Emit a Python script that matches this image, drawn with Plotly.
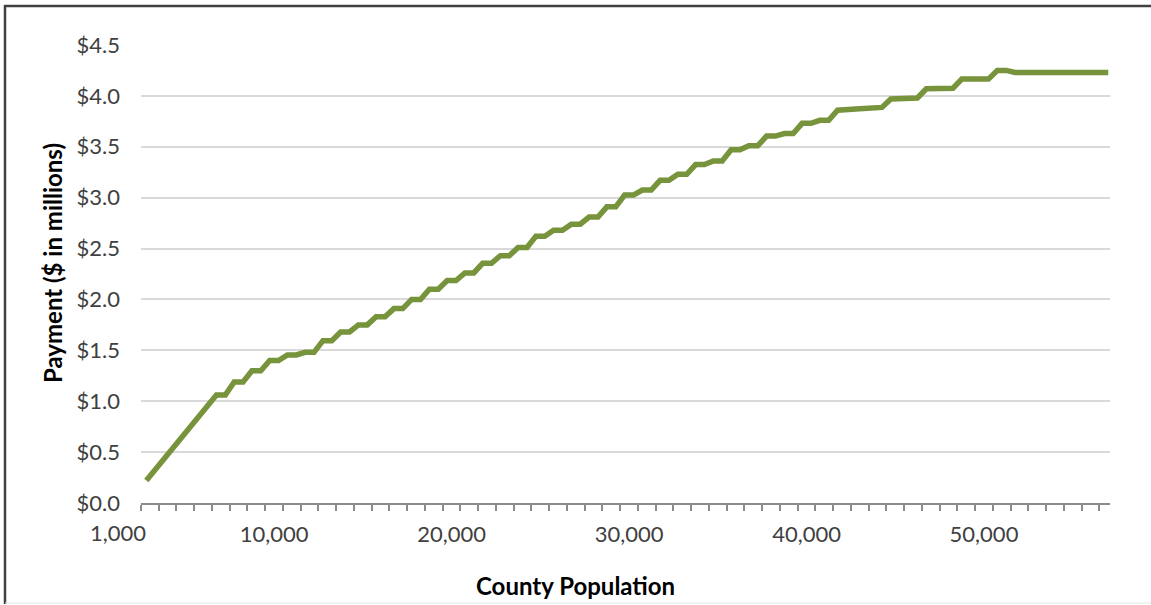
import plotly.graph_objects as go

# ---- data ----
population = [
    2800, 4000, 5000, 6000,
    6750, 7250, 7750, 8250, 8750, 9250, 9750, 10250,
    10750, 11250, 11750, 12250, 12750, 13250, 13750, 14250,
    14750, 15250, 15750, 16250, 16750, 17250, 17750, 18250,
    18750, 19250, 19750, 20250, 20750, 21250, 21750, 22250,
    22750, 23250, 23750, 24250, 24750, 25250, 25750, 26250,
    26750, 27250, 27750, 28250, 28750, 29250, 29750, 30250,
    30750, 31250, 31750, 32250, 32750, 33250, 33750, 34250,
    34750, 35250, 35750, 36250, 36750, 37250, 37750, 38250,
    38750, 39250, 39750, 40250, 40750, 41250,
    41750, 43000, 44250, 44750, 46250, 46750, 48250,
    48750, 50250, 50750, 51250, 51750, 57000,
]
payment_millions = [
    0.22, 0.48, 0.70, 0.91,
    1.06, 1.06, 1.19, 1.19, 1.30, 1.30, 1.40, 1.40,
    1.455, 1.455, 1.48, 1.48, 1.595, 1.595, 1.68, 1.68,
    1.75, 1.75, 1.83, 1.83, 1.91, 1.91, 2.00, 2.00,
    2.10, 2.10, 2.185, 2.185, 2.26, 2.26, 2.355, 2.355,
    2.43, 2.43, 2.51, 2.51, 2.62, 2.62, 2.68, 2.68,
    2.74, 2.74, 2.81, 2.81, 2.91, 2.91, 3.025, 3.025,
    3.075, 3.075, 3.17, 3.17, 3.23, 3.23, 3.325, 3.325,
    3.36, 3.36, 3.47, 3.47, 3.51, 3.51, 3.605, 3.605,
    3.63, 3.63, 3.73, 3.73, 3.76, 3.76,
    3.86, 3.873, 3.887, 3.97, 3.98, 4.07, 4.075,
    4.165, 4.165, 4.25, 4.25, 4.23, 4.23,
]
x_title = "County Population"
y_title = "Payment ($ in millions)"
first_x_label = "1,000"

# ---- layout geometry (pixels) ----
W, H = 1151, 605
L, R, T, B = 141, 1110, 45, 503


def px(x):
    return (x - L) / (R - L)


def py(y):
    return (B - y) / (B - T)


FONT = "Lato"
LINE_GREEN = "#77933C"
TICK_SIZE = 22
TITLE_SIZE = 24

fig = go.Figure()
fig.add_trace(go.Scatter(
    x=population, y=payment_millions, mode="lines",
    line=dict(color=LINE_GREEN, width=5.5),
    hoverinfo="skip", showlegend=False,
))

fig.update_layout(
    width=W, height=H,
    margin=dict(l=L, r=W - R, t=T, b=H - B, autoexpand=False),
    paper_bgcolor="white", plot_bgcolor="white",
    font=dict(family=FONT, size=TICK_SIZE, color="#404040"),
    xaxis=dict(
        range=[2500, 57100],
        tickmode="linear", tick0=0, dtick=10000,
        tickformat=",",
        ticks="", showgrid=False, zeroline=False,
        showline=True, linecolor="#8C8C8C", linewidth=2,
        ticklabelstandoff=11,
        tickfont=dict(family=FONT, size=TICK_SIZE, color="#404040"),
        minor=dict(ticks="outside", tickmode="linear", tick0=500, dtick=1000,
                   ticklen=6, tickwidth=2, tickcolor="#8C8C8C", showgrid=False),
        automargin=False,
    ),
    yaxis=dict(
        range=[0, 4.5],
        tickmode="linear", tick0=0, dtick=0.5,
        tickformat="$.1f",
        ticks="", showgrid=True, gridcolor="#D9D9D9", gridwidth=2,
        zeroline=False, showline=False,
        ticklabelstandoff=20,
        tickfont=dict(family=FONT, size=TICK_SIZE, color="#404040"),
        automargin=False,
    ),
)

# axis titles and the leftmost category label
fig.add_annotation(text=x_title, xref="paper", yref="paper",
                   x=px(575), y=py(585), showarrow=False,
                   xanchor="center", yanchor="middle",
                   font=dict(family=FONT, size=TITLE_SIZE, color="#000000", weight="bold"))
fig.add_annotation(text=y_title, xref="paper", yref="paper",
                   x=px(52), y=py(263), showarrow=False, textangle=-90,
                   xanchor="center", yanchor="middle",
                   font=dict(family=FONT, size=TITLE_SIZE, color="#000000", weight="bold"))
fig.add_annotation(text=first_x_label, xref="paper", yref="paper",
                   x=px(118), y=py(532), showarrow=False,
                   xanchor="center", yanchor="middle",
                   font=dict(family=FONT, size=TICK_SIZE, color="#404040"))

# frame of the screenshot
fig.add_shape(type="line", xref="paper", yref="paper",
              x0=px(5), x1=px(5), y0=py(5), y1=py(604),
              line=dict(color="#404040", width=2.5))
fig.add_shape(type="line", xref="paper", yref="paper",
              x0=px(4), x1=px(1151), y0=py(6), y1=py(6),
              line=dict(color="#404040", width=2.5))
fig.add_shape(type="line", xref="paper", yref="paper",
              x0=px(5), x1=px(1151), y0=py(603), y1=py(603),
              line=dict(color="#E6E6E6", width=1))

fig.write_html(
    "out.html",
    config={"displayModeBar": False, "staticPlot": True},
    post_script="document.body.style.margin='0';document.body.style.overflow='hidden';",
)
